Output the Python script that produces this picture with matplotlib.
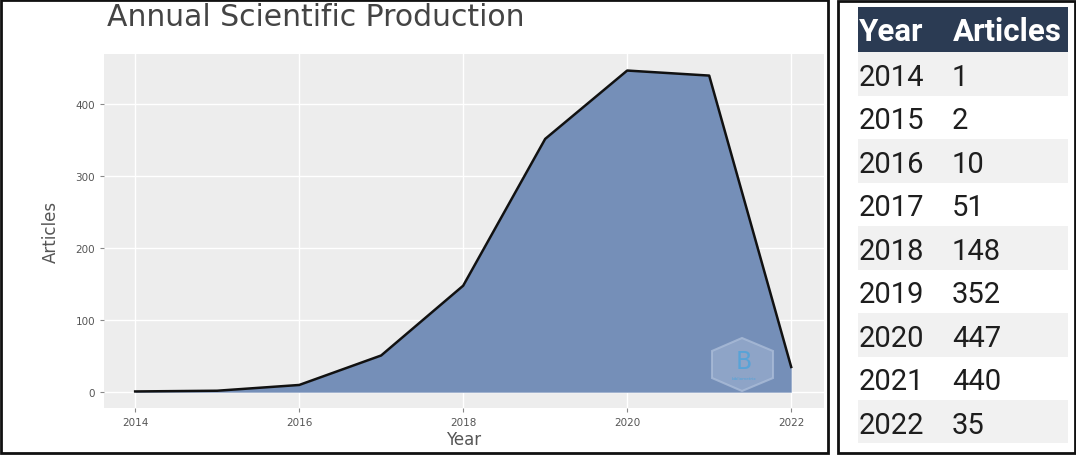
import matplotlib.pyplot as plt
from matplotlib.patches import Rectangle, Polygon

# data
years = [2014, 2015, 2016, 2017, 2018, 2019, 2020, 2021, 2022]
articles = [1, 2, 10, 51, 148, 352, 447, 440, 35]
x_ticks = [2014, 2016, 2018, 2020, 2022]
y_ticks = [0, 100, 200, 300, 400]

W, H = 1076, 456
fig = plt.figure(figsize=(W / 100, H / 100), dpi=100)

# main chart
ax = fig.add_axes([104 / W, (H - 409) / H, 720 / W, 354 / H])
ax.set_facecolor('#ededed')
ax.fill_between(years, articles, 0, color='#758fb8', lw=0, zorder=2)
ax.plot(years, articles, color='#111111', lw=1.8, zorder=3)
ax.set_xlim(2013.62, 2022.4)
ax.set_ylim(-22, 470)
ax.set_xticks(x_ticks)
ax.set_yticks(y_ticks)
ax.grid(color='white', lw=1, zorder=1)
ax.set_axisbelow(True)
for s in ax.spines.values():
    s.set_visible(False)
ax.tick_params(colors='#888888', labelcolor='#555555', labelsize=7.5, length=3, width=0.8)
ax.set_xlabel('Year', fontsize=12, color='#555555', labelpad=2)
ax.set_ylabel('Articles', fontsize=12, color='#555555', labelpad=11)
fig.text(107 / W, 1 - 17 / H, 'Annual Scientific Production', fontsize=21.5,
         color='#444444', va='center', ha='left')

# overlay for panel frames, logo and table
ov = fig.add_axes([0, 0, 1, 1])
ov.set_xlim(0, W)
ov.set_ylim(H, 0)
ov.axis('off')
ov.patch.set_alpha(0)

# watermark logo (bibliometrix hexagon)
hexagon = [(742, 339), (773, 352), (773, 379), (742, 392), (712, 379), (712, 352)]
ov.add_patch(Polygon(hexagon, closed=True, fc='#95aacb', ec='#aabcd8', lw=1.5, alpha=0.8))
ov.text(744, 362, 'B', fontsize=17, color='#4fa3da', ha='center', va='center', alpha=0.85)
ov.text(744, 379, 'bibliometrix', fontsize=3, color='#4fa3da', ha='center', va='center')

ov.add_patch(Rectangle((1, 1), 827, 453, fill=False, ec='#111111', lw=2))
ov.add_patch(Rectangle((838, 2), 237, 452, fill=False, ec='#111111', lw=2))

# table
left, right = 858, 1068
row_h = 43.5
top = 8
ov.add_patch(Rectangle((left, top), right - left, 45, color='#2b3b53', lw=0))
ov.text(859, top + 24, 'Year', color='white', fontsize=22.5, fontweight='bold',
        family='Roboto', va='center')
ov.text(953, top + 24, 'Articles', color='white', fontsize=22.5, fontweight='bold',
        family='Roboto', va='center')
for i, (yr, n) in enumerate(zip(years, articles)):
    y0 = top + 45 + i * row_h
    if i % 2 == 0:
        ov.add_patch(Rectangle((left, y0), right - left, row_h, color='#f1f1f1', lw=0))
    ov.text(859, y0 + row_h / 2 + 3, str(yr), fontsize=21, family='Roboto',
            color='#1e1e1e', va='center')
    ov.text(952, y0 + row_h / 2 + 3, str(n), fontsize=21, family='Roboto',
            color='#1e1e1e', va='center')

fig.savefig('out.png', dpi=100)
